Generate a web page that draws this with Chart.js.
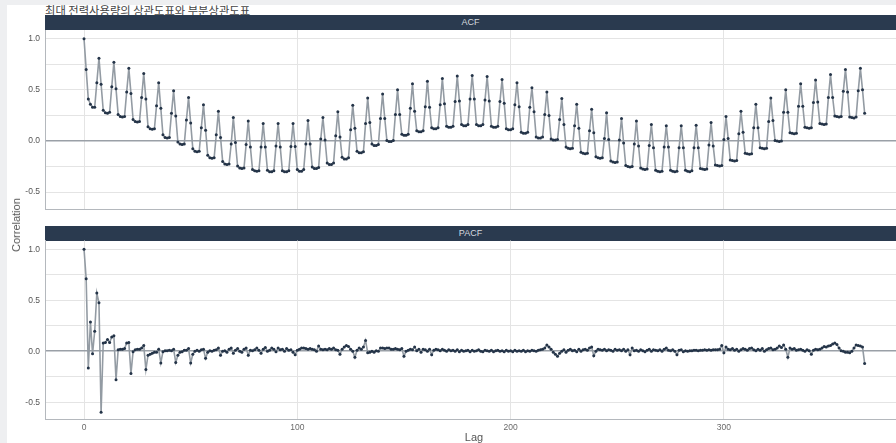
<!DOCTYPE html>
<html>
<head>
<meta charset="utf-8">
<script src="https://cdn.jsdelivr.net/npm/chart.js@4.4.1/dist/chart.umd.min.js"></script>
<style>
  html, body { margin: 0; padding: 0; background: #eeeff1; width: 896px; height: 443px; overflow: hidden; }
  #page { position: absolute; left: 7px; top: 5px; width: 889px; height: 438px; background: #fff; }
  .title { position: absolute; left: 45px; top: 3px; font: 11.3px "Noto Sans CJK KR", sans-serif; color: #444; line-height: 15px; white-space: nowrap; }
  .strip { position: absolute; left: 45px; width: 851px; background: #2a3a4f; color: #d5d9df;
           font: 9px "Liberation Sans", Arial, sans-serif; text-align: center; }
  .ylab { position: absolute; left: 16px; top: 225px; transform: translate(-50%, -50%) rotate(-90deg);
          font: 11px "Liberation Sans", Arial, sans-serif; color: #555; white-space: nowrap; }
  .xlab { position: absolute; left: 474px; top: 437px; transform: translate(-50%, -50%);
          font: 11px "Liberation Sans", Arial, sans-serif; color: #555; }
  canvas { position: absolute; left: 0; }
</style>
</head>
<body>
<div id="page"></div>
<div class="title">최대 전력사용량의 상관도표와 부분상관도표</div>
<div class="strip" style="top:15px;height:15px;line-height:15px">ACF</div>
<div class="strip" style="top:226px;height:14.5px;line-height:14.5px">PACF</div>
<canvas id="acf" width="896" height="183" style="top:28px"></canvas>
<canvas id="pacf" width="896" height="205" style="top:238px"></canvas>
<div class="ylab">Correlation</div>
<div class="xlab">Lag</div>
<script>
// ACF, one row per week (lags 7k .. 7k+6)
const acfValues = [
  1.00, 0.70, 0.41, 0.36, 0.33, 0.33, 0.57,
  0.81, 0.555, 0.30, 0.275, 0.27, 0.28, 0.53,
  0.77, 0.51, 0.26, 0.24, 0.235, 0.24, 0.48,
  0.71, 0.465, 0.21, 0.19, 0.185, 0.19, 0.425,
  0.66, 0.41, 0.14, 0.12, 0.115, 0.12, 0.345,
  0.57, 0.32, 0.06, 0.035, 0.03, 0.035, 0.27,
  0.49, 0.245, -0.01, -0.03, -0.035, -0.03, 0.205,
  0.425, 0.175, -0.075, -0.10, -0.105, -0.10, 0.13,
  0.355, 0.105, -0.14, -0.165, -0.17, -0.165, 0.06,
  0.29, 0.035, -0.20, -0.225, -0.23, -0.225, -0.03,
  0.23, -0.015, -0.245, -0.265, -0.27, -0.265, -0.035,
  0.195, -0.06, -0.28, -0.29, -0.295, -0.29, -0.06,
  0.17, -0.06, -0.285, -0.30, -0.30, -0.29, -0.05,
  0.17, -0.06, -0.29, -0.30, -0.30, -0.29, -0.055,
  0.17, -0.055, -0.28, -0.295, -0.295, -0.28, -0.03,
  0.20, -0.03, -0.255, -0.27, -0.27, -0.26, 0.02,
  0.23, 0.01, -0.215, -0.23, -0.23, -0.215, 0.05,
  0.285, 0.04, -0.16, -0.175, -0.175, -0.165, 0.11,
  0.35, 0.125, -0.10, -0.115, -0.115, -0.105, 0.17,
  0.42, 0.18, -0.03, -0.045, -0.045, -0.035, 0.22,
  0.46, 0.22, 0.005, -0.005, -0.005, 0.005, 0.26,
  0.50, 0.26, 0.065, 0.055, 0.055, 0.065, 0.32,
  0.56, 0.29, 0.10, 0.09, 0.09, 0.10, 0.335,
  0.585, 0.33, 0.13, 0.12, 0.12, 0.13, 0.355,
  0.61, 0.365, 0.145, 0.135, 0.135, 0.145, 0.385,
  0.635, 0.39, 0.16, 0.15, 0.15, 0.16, 0.41,
  0.64, 0.41, 0.16, 0.15, 0.15, 0.16, 0.40,
  0.63, 0.39, 0.145, 0.135, 0.135, 0.145, 0.385,
  0.60, 0.37, 0.12, 0.11, 0.11, 0.12, 0.355,
  0.57, 0.335, 0.085, 0.075, 0.075, 0.085, 0.33,
  0.52, 0.285, 0.04, 0.03, 0.03, 0.04, 0.26,
  0.48, 0.25, 0.02, 0.01, 0.01, 0.015, 0.21,
  0.415, 0.16, -0.06, -0.07, -0.075, -0.07, 0.15,
  0.36, 0.125, -0.11, -0.12, -0.125, -0.12, 0.10,
  0.31, 0.08, -0.155, -0.165, -0.17, -0.165, 0.025,
  0.275, 0.015, -0.195, -0.205, -0.21, -0.205, 0.01,
  0.22, -0.02, -0.24, -0.25, -0.255, -0.25, -0.03,
  0.195, -0.05, -0.265, -0.275, -0.28, -0.275, -0.045,
  0.16, -0.065, -0.285, -0.295, -0.30, -0.295, -0.06,
  0.15, -0.06, -0.285, -0.295, -0.30, -0.295, -0.065,
  0.15, -0.065, -0.285, -0.295, -0.30, -0.29, -0.065,
  0.155, -0.065, -0.27, -0.275, -0.28, -0.275, -0.04,
  0.18, -0.05, -0.235, -0.24, -0.245, -0.24, 0.015,
  0.24, 0.025, -0.185, -0.19, -0.195, -0.19, 0.07,
  0.29, 0.085, -0.12, -0.125, -0.13, -0.125, 0.13,
  0.36, 0.13, -0.065, -0.07, -0.075, -0.07, 0.19,
  0.42, 0.20, 0.005, 0.0, -0.005, 0.0, 0.28,
  0.50, 0.28, 0.08, 0.075, 0.07, 0.075, 0.34,
  0.56, 0.34, 0.135, 0.13, 0.125, 0.13, 0.375,
  0.595, 0.38, 0.17, 0.165, 0.16, 0.165, 0.425,
  0.65, 0.425, 0.245, 0.24, 0.235, 0.24, 0.485,
  0.70, 0.48, 0.235, 0.23, 0.225, 0.235, 0.49,
  0.71, 0.50, 0.27
];

// PACF, ten lags per row
const pacfValues = [
  1.00, 0.71, -0.165, 0.285, -0.025, 0.195, 0.57, 0.475, -0.60, 0.08,
  0.085, 0.115, 0.085, 0.14, 0.15, -0.28, 0.015, 0.02, 0.02, 0.025,
  0.08, 0.085, -0.22, -0.005, 0.015, 0.02, 0.02, 0.03, 0.055, -0.18,
  -0.04, -0.03, -0.02, -0.01, -0.01, 0.02, -0.115, -0.005, 0.005, 0.005,
  0.01, 0.005, 0.02, -0.11, -0.04, -0.01, -0.005, 0.01, 0.01, 0.025,
  -0.115, -0.03, 0.0, 0.01, 0.0, 0.015, 0.02, -0.07, -0.01, 0.005,
  0.0, 0.01, 0.015, 0.03, -0.04, 0.0, 0.005, -0.01, 0.02, 0.03,
  -0.02, 0.01, 0.025, 0.0, -0.01, 0.02, 0.03, -0.04, 0.01, 0.005,
  0.015, 0.03, 0.01, -0.02, 0.02, 0.035, 0.0, 0.01, 0.03, 0.02,
  -0.005, 0.03, 0.015, 0.02, 0.0, 0.025, 0.01, 0.015, -0.01, -0.035,
  0.01, 0.02, 0.03, 0.03, 0.025, 0.02, 0.025, 0.02, 0.015, 0.0,
  0.05, 0.02, 0.015, 0.02, 0.015, 0.025, 0.02, 0.03, 0.015, 0.01,
  -0.03, 0.02, 0.04, 0.055, 0.045, 0.02, 0.0, -0.06, 0.01, 0.03,
  0.02, 0.04, 0.105, -0.015, -0.01, 0.0, -0.01, 0.005, 0.0, 0.03,
  0.03, 0.025, 0.03, 0.03, 0.02, 0.02, 0.025, 0.02, 0.015, 0.025,
  -0.05, 0.0, 0.01, 0.02, 0.015, 0.04, 0.005, 0.02, -0.01, 0.02,
  0.015, 0.0, 0.02, -0.035, 0.01, 0.02, 0.015, 0.005, 0.02, 0.01,
  0.0, 0.015, 0.005, 0.01, 0.0, 0.015, -0.005, 0.01, 0.0, 0.005,
  0.01, -0.005, 0.01, 0.0, 0.005, 0.015, 0.0, -0.005, 0.01, 0.005,
  0.0, 0.01, -0.005, 0.005, 0.01, 0.0, 0.005, -0.005, 0.01, 0.0,
  0.005, -0.005, 0.01, 0.0, 0.005, 0.0, 0.01, -0.005, 0.005, 0.0,
  0.01, 0.005, 0.0, 0.01, 0.015, 0.02, 0.03, 0.06, 0.04, 0.02,
  -0.01, -0.03, -0.05, -0.02, 0.0, 0.015, -0.01, 0.01, 0.02, 0.005,
  0.01, -0.005, 0.02, 0.0, 0.015, 0.02, 0.01, 0.03, 0.04, -0.045,
  0.0, 0.02, 0.015, 0.01, 0.02, 0.005, 0.015, 0.01, 0.0, 0.02,
  0.01, 0.015, 0.005, 0.02, 0.0, 0.015, -0.035, 0.03, 0.005, 0.01,
  0.0, 0.015, 0.005, -0.005, 0.01, 0.02, 0.0, 0.015, 0.01, 0.005,
  0.015, 0.0, 0.02, 0.03, 0.01, 0.005, 0.015, 0.0, -0.035, 0.01,
  0.015, -0.005, 0.005, 0.0, 0.005, 0.005, 0.01, 0.01, 0.005, 0.01,
  0.01, 0.015, 0.01, 0.015, 0.01, 0.015, 0.015, 0.015, 0.02, 0.055,
  -0.015, 0.04, 0.02, 0.015, 0.025, 0.01, 0.02, 0.0, 0.015, 0.025,
  0.02, 0.01, 0.025, 0.03, 0.015, 0.005, 0.02, 0.01, 0.025, 0.0,
  0.015, 0.025, 0.03, 0.015, 0.02, 0.03, 0.05, 0.035, 0.06, 0.02,
  -0.06, 0.03, 0.02, 0.025, 0.01, 0.015, 0.02, 0.01, 0.0, 0.015,
  0.005, -0.03, 0.01, 0.02, 0.015, 0.02, 0.03, 0.045, 0.04, 0.05,
  0.055, 0.07, 0.08, 0.065, 0.03, 0.005, 0.0, -0.01, -0.01, -0.015,
  0.0, 0.03, 0.06, 0.055, 0.05, 0.04, -0.12
];

const lags = acfValues.map((_, i) => i);   // lag = position in the series
const xTicks = [0, 100, 200, 300];
const yTicks = [-0.5, -0.25, 0, 0.25, 0.5, 0.75, 1];

const X_MIN = -18.3, X_MAX = 380.7;
const Y_MIN = -0.665, Y_MAX = 1.085;
const FONT = '"Liberation Sans", Arial, sans-serif';

// the panels must line up exactly, so drop the padding chart.js reserves for edge labels
function noPad(s) { s.paddingTop = 0; s.paddingBottom = 0; s.paddingLeft = 0; s.paddingRight = 0; }

function makePanel(canvasId, values, showX, padTop, xHeight) {
    return new Chart(document.getElementById(canvasId), {
        type: 'line',
        data: {
            datasets: [{
                data: values.map((v, i) => ({ x: lags[i], y: v })),
                borderColor: '#939ba3',
                borderWidth: 1.6,
                pointRadius: 1.5,
                pointHoverRadius: 1.5,
                pointBorderWidth: 0,
                pointBackgroundColor: '#243448',
                tension: 0
            }]
        },
        options: {
            animation: false, responsive: false, maintainAspectRatio: false,
            layout: { autoPadding: false, padding: { top: padTop, left: 0, right: 0, bottom: 0 } },
            plugins: { legend: { display: false }, tooltip: { enabled: false } },
            scales: {
                x: {
                    type: 'linear', min: X_MIN, max: X_MAX,
                    afterBuildTicks: s => { s.ticks = xTicks.map(v => ({ value: v })); },
                    afterFit: s => { s.height = xHeight; noPad(s); },
                    grid: { color: '#e4e4e4', lineWidth: 1, drawTicks: false },
                    border: { display: true, color: '#b4b8bd', width: 1 },
                    ticks: { display: showX, padding: 4, color: '#6a6a6a', font: { family: FONT, size: 8.5 } }
                },
                y: {
                    min: Y_MIN, max: Y_MAX,
                    afterBuildTicks: s => { s.ticks = yTicks.map(v => ({ value: v })); },
                    afterFit: s => { s.width = 45; noPad(s); },
                    grid: {
                        drawTicks: false,
                        color: c => c.tick && c.tick.value === 0 ? '#9aa0a7' : '#e4e4e4',
                        lineWidth: c => c.tick && c.tick.value === 0 ? 1.4 : 1
                    },
                    border: { display: true, color: '#b4b8bd', width: 1 },
                    ticks: {
                        padding: 5, color: '#555', font: { family: FONT, size: 8.5 },
                        callback: v => (Math.abs(v * 2 - Math.round(v * 2)) < 1e-9) ? v.toFixed(1) : ''
                    }
                }
            }
        }
    });
}

makePanel('acf', acfValues, false, 2, 2);
makePanel('pacf', pacfValues, true, 2.5, 24);
</script>
</body>
</html>
